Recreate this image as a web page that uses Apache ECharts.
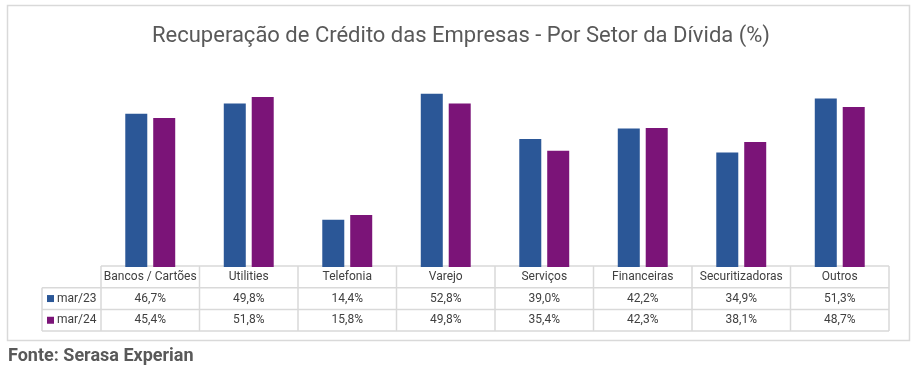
<!DOCTYPE html>
<html><head><meta charset="utf-8">
<script src="https://cdn.jsdelivr.net/npm/echarts@6/dist/echarts.min.js"></script>
<style>html,body{margin:0;padding:0;background:#fff}#c{width:922px;height:373px}</style>
</head><body><div id="c"></div>
<script>
const categories = ['Bancos / Cartões','Utilities','Telefonia','Varejo','Serviços','Financeiras','Securitizadoras','Outros'];
const seriesNames = ['mar/23','mar/24'];
const mar23 = [46.7, 49.8, 14.4, 52.8, 39.0, 42.2, 34.9, 51.3];
const mar24 = [45.4, 51.8, 15.8, 49.8, 35.4, 42.3, 38.1, 48.7];
const colors = ['#2b5797','#7b1478'];
const titleText = 'Recuperação de Crédito das Empresas - Por Setor da Dívida (%)';
const sourceText = 'Fonte: Serasa Experian';

const fmt = v => v.toFixed(1).replace('.', ',') + '%';
const chart = echarts.init(document.getElementById('c'), null, {renderer:'canvas'});
const FONT = 'Roboto, "Noto Sans", sans-serif';
const baseOption = {
  animation:false,
  textStyle:{fontFamily:FONT},
  title:{text:titleText,left:'center',top:20,textStyle:{fontFamily:FONT,fontSize:22,fontWeight:'normal',color:'#595959'}},
  grid:{left:101,right:33,top:70,bottom:106,containLabel:false},
  xAxis:{type:'category',data:categories,axisLine:{show:false},axisTick:{show:false},axisLabel:{show:false}},
  yAxis:{type:'value',min:0,max:60,show:false,splitLine:{show:false}},
  series:[
    {name:seriesNames[0],type:'bar',data:mar23,barWidth:22,barGap:'27%',itemStyle:{color:colors[0]}},
    {name:seriesNames[1],type:'bar',data:mar24,barWidth:22,itemStyle:{color:colors[1]}}
  ]
};
chart.setOption(baseOption);

// Build data table under the plot from the axis scale
const n = categories.length;
const c0 = chart.convertToPixel({xAxisIndex:0}, 0);
const c1 = chart.convertToPixel({xAxisIndex:0}, 1);
const colW = c1 - c0;
const x0 = c0 - colW/2;
const xEnd = x0 + colW*n;
const yTop = chart.convertToPixel({yAxisIndex:0}, 0) - 1;
const rowH = 21.7;
const legendLeft = 42;
const lineStyle = {stroke:'#d9d9d9', lineWidth:1.5};
const els = [];
// outer frame
els.push({type:'rect',shape:{x:7.5,y:5.5,width:902,height:335},style:{fill:'none',stroke:'#d9d9d9',lineWidth:1.5},silent:true});
// horizontal lines
els.push({type:'line',shape:{x1:x0,y1:yTop,x2:xEnd,y2:yTop},style:lineStyle});
for(let r=1;r<=3;r++){
  els.push({type:'line',shape:{x1:legendLeft,y1:yTop+rowH*r,x2:xEnd,y2:yTop+rowH*r},style:lineStyle});
}
// vertical lines
els.push({type:'line',shape:{x1:legendLeft,y1:yTop+rowH,x2:legendLeft,y2:yTop+rowH*3},style:lineStyle});
for(let i=0;i<=n;i++){
  const x = x0 + colW*i;
  els.push({type:'line',shape:{x1:x,y1:yTop,x2:x,y2:yTop+rowH*3},style:lineStyle});
}
const tstyle = (text,x,y,align) => ({type:'text',x:x,y:y,style:{text:text,fill:'#404040',font:'12px '+FONT,align:align||'center',verticalAlign:'middle'}});
const rows = [mar23, mar24];
for(let i=0;i<n;i++){
  const cx = chart.convertToPixel({xAxisIndex:0}, i);
  els.push(tstyle(categories[i], cx, yTop+rowH*0.5));
  rows.forEach((arr,r)=>{ els.push(tstyle(fmt(arr[i]), cx, yTop+rowH*(r+1.5))); });
}
seriesNames.forEach((nm,r)=>{
  const cy = yTop+rowH*(r+1.5);
  els.push({type:'rect',shape:{x:47,y:cy-3.5,width:7,height:7},style:{fill:colors[r]}});
  els.push(tstyle(nm, 57, cy, 'left'));
});
els.push({type:'text',x:8,y:356,style:{text:sourceText,fill:'#595959',font:'bold 18px '+FONT,align:'left',verticalAlign:'middle'}});
chart.setOption({graphic:{elements:els}});
</script></body></html>
